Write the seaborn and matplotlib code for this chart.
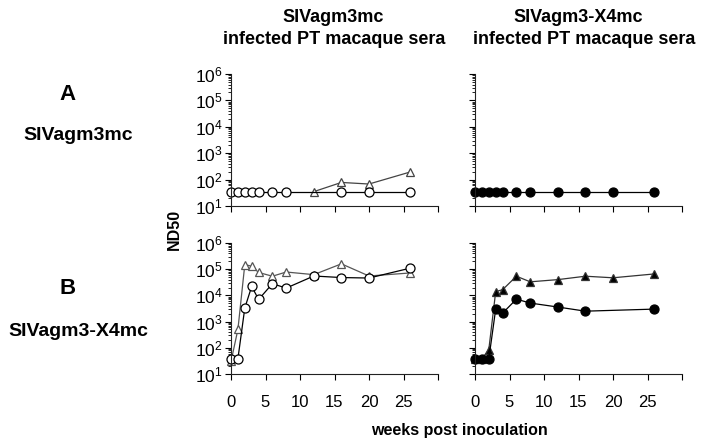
import matplotlib
matplotlib.use("Agg")
import matplotlib.pyplot as plt
from matplotlib.ticker import LogLocator, NullFormatter
import seaborn as sns

sns.set_style("ticks")
plt.rcParams['font.family'] = ['Liberation Sans', 'DejaVu Sans']
plt.rcParams['text.color'] = 'black'
plt.rcParams['xtick.color'] = 'black'
plt.rcParams['ytick.color'] = 'black'
plt.rcParams['axes.edgecolor'] = 'black'

# --- data (ND50 titers by week) ---
weeks_all = [0, 1, 2, 3, 4, 6, 8, 12, 16, 20, 26]

# A, SIVagm3mc infected sera
a_left_circ_weeks = [0, 1, 2, 3, 4, 6, 8, 16, 20, 26]
a_left_circ = [35, 35, 35, 35, 35, 35, 35, 35, 35, 35]
a_left_tri_weeks = [12, 16, 20, 26]
a_left_tri = [35, 78, 68, 195]

# A, SIVagm3-X4mc infected sera
a_right_circ_weeks = weeks_all
a_right_circ = [35, 35, 35, 35, 35, 35, 35, 35, 35, 35, 35]

# B, SIVagm3mc infected sera
b_left_circ = [38, 38, 3300, 22000, 7000, 28000, 19000, 55000, 48000, 46000, 110000]
b_left_tri = [30, 500, 150000, 130000, 75000, 54000, 78000, 62000, 160000, 55000, 72000]

# B, SIVagm3-X4mc infected sera
b_right_circ_weeks = [0, 1, 2, 3, 4, 6, 8, 12, 16, 26]
b_right_circ = [38, 38, 38, 3000, 2100, 7200, 5100, 3600, 2500, 3000]
b_right_tri = [38, 38, 85, 14000, 16500, 54000, 33000, 40000, 54000, 47000, 66000]

xticks = [0, 5, 10, 15, 20, 25, 30]
xticklabels = ["0", "5", "10", "15", "20", "25", ""]

fig = plt.figure(figsize=(7.01, 4.42), dpi=100)
W, H = 701, 442


def make_ax(x0, x1, y0, y1):
    return fig.add_axes([x0 / W, 1 - y1 / H, (x1 - x0) / W, (y1 - y0) / H])


ax_tl = make_ax(231, 438, 74, 206)
ax_tr = make_ax(475, 682, 74, 206)
ax_bl = make_ax(231, 438, 243, 374)
ax_br = make_ax(475, 682, 243, 374)


def draw(ax, x, y, marker, filled, line_color):
    sns.lineplot(x=x, y=y, ax=ax, marker=marker, markersize=6.5 if marker == "o" else 6.2,
                 markerfacecolor="black" if filled else "white",
                 markeredgecolor="black" if marker == "o" else line_color,
                 markeredgewidth=0.9, color=line_color, linewidth=0.9,
                 estimator=None, sort=False, clip_on=False)


# triangles first, circles on top
draw(ax_tl, a_left_tri_weeks, a_left_tri, "^", False, "#444444")
draw(ax_tl, a_left_circ_weeks, a_left_circ, "o", False, "black")
draw(ax_tr, a_right_circ_weeks, a_right_circ, "o", True, "black")
draw(ax_bl, weeks_all, b_left_tri, "^", False, "#555555")
draw(ax_bl, weeks_all, b_left_circ, "o", False, "black")
draw(ax_br, weeks_all, b_right_tri, "^", True, "#333333")
draw(ax_br, b_right_circ_weeks, b_right_circ, "o", True, "black")

for ax in [ax_tl, ax_tr, ax_bl, ax_br]:
    ax.set_yscale("log")
    ax.set_ylim(10, 1e6)
    ax.yaxis.set_major_locator(LogLocator(base=10, numticks=20))
    ax.yaxis.set_minor_locator(LogLocator(base=10, subs=range(2, 10), numticks=100))
    ax.yaxis.set_minor_formatter(NullFormatter())
    ax.set_xlim(0, 30)
    ax.set_xticks(xticks)
    ax.set_xticklabels(xticklabels)
    ax.set_xlabel("")
    ax.set_ylabel("")
    sns.despine(ax=ax)
    for s in ["left", "bottom"]:
        ax.spines[s].set_linewidth(0.8)
        ax.spines[s].set_color("#222222")
    ax.tick_params(axis="x", direction="out", length=4, width=0.8, pad=11, labelsize=12)
    ax.tick_params(axis="y", which="major", direction="out", length=4, width=0.8, pad=2, labelsize=12.5)
    ax.tick_params(axis="y", which="minor", direction="out", length=2.2, width=0.6)

for ax in [ax_tl, ax_tr]:
    ax.tick_params(axis="x", labelbottom=False)
for ax in [ax_tr, ax_br]:
    ax.tick_params(axis="y", labelleft=False)

# column titles
fig.text(333 / W, 1 - 17 / H, "SIVagm3mc", ha="center", va="center", fontsize=13, fontweight="bold")
fig.text(334 / W, 1 - 39 / H, "infected PT macaque sera", ha="center", va="center", fontsize=13, fontweight="bold")
fig.text(578 / W, 1 - 17 / H, "SIVagm3-X4mc", ha="center", va="center", fontsize=13, fontweight="bold")
fig.text(584 / W, 1 - 39 / H, "infected PT macaque sera", ha="center", va="center", fontsize=13, fontweight="bold")

# row labels
fig.text(68 / W, 1 - 95 / H, "A", ha="center", va="center", fontsize=16, fontweight="bold")
fig.text(78 / W, 1 - 136 / H, "SIVagm3mc", ha="center", va="center", fontsize=14, fontweight="bold")
fig.text(68 / W, 1 - 288 / H, "B", ha="center", va="center", fontsize=16, fontweight="bold")
fig.text(78 / W, 1 - 332 / H, "SIVagm3-X4mc", ha="center", va="center", fontsize=14, fontweight="bold")

fig.text(174 / W, 1 - 229 / H, "ND50", ha="center", va="center", rotation=90, fontsize=11.5, fontweight="bold")
fig.text(459 / W, 1 - 430 / H, "weeks post inoculation", ha="center", va="center", fontsize=11.5, fontweight="bold")

fig.savefig("out.png", dpi=100)
